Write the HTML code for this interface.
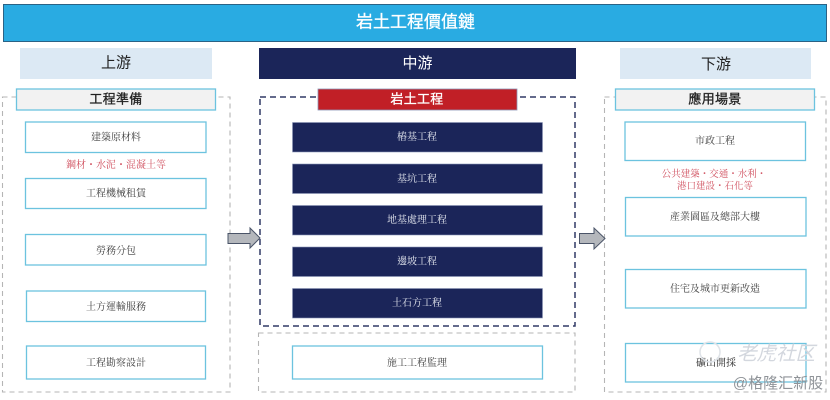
<!DOCTYPE html>
<html lang="zh-Hant">
<head>
<meta charset="utf-8">
<title>岩土工程價值鏈</title>
<style>
html,body{margin:0;padding:0;background:#fff;width:830px;height:400px;overflow:hidden}
svg{display:block}
.s{font-family:"Liberation Sans","Noto Sans CJK TC",sans-serif;text-anchor:middle}
.m{stroke-width:.3px}
.f{font-family:"Liberation Serif","Noto Serif CJK SC",serif;text-anchor:middle;font-size:10px;fill:#3d3d3d}
.b{fill:#fff;stroke:#6cc3df;stroke-width:1.3}
.n{fill:#1b2559;stroke:#8d97b8;stroke-width:.6}
.h{fill:#f2f2f2;stroke:#6cc3df;stroke-width:1.3}
.g{fill:none;stroke:#b5b5b5;stroke-width:1.1;stroke-dasharray:5 4}
.d{fill:none;stroke:#303a66;stroke-width:1.5;stroke-dasharray:6 4}
.a{fill:#b4b7bc;stroke:#4a5468;stroke-width:1}
</style>
</head>
<body>
<svg width="830" height="400" viewBox="0 0 830 400" xmlns="http://www.w3.org/2000/svg">
<rect x="0" y="0" width="830" height="400" fill="#fff"/>

<rect x="3.500" y="4.500" width="823" height="37" fill="#29abe2" stroke="#2a6285" stroke-width="1"/>
<text class="s m" x="415.500" y="27.500" font-size="17" fill="#fff" stroke="#fff">岩土工程價值鏈</text>

<rect x="20" y="48" width="192" height="31" fill="#dce9f4"/>
<text class="s" x="116" y="67.500" font-size="15" fill="#222">上游</text>
<rect x="259" y="48" width="317" height="31" fill="#1b2559"/>
<text class="s" x="417.500" y="68" font-size="15" fill="#fff">中游</text>
<rect x="620" y="48" width="191" height="31" fill="#dce9f4"/>
<text class="s" x="716" y="69" font-size="15" fill="#222">下游</text>

<rect class="g" x="2.500" y="97" width="227.500" height="295"/>
<rect class="d" x="260" y="97" width="315" height="229"/>
<rect class="g" x="258.500" y="333" width="316.500" height="59"/>
<rect class="g" x="604.500" y="97" width="221.500" height="295"/>

<rect class="h" x="16.500" y="89" width="199" height="21"/>
<text class="s m" x="116" y="103.500" font-size="13" fill="#222" stroke="#222" letter-spacing=".3">工程準備</text>
<rect x="318" y="89" width="199" height="21" fill="#c11f26" stroke="#8d97b8" stroke-width=".8"/>
<text class="s m" x="417" y="103.500" font-size="13" fill="#fff" stroke="#fff" letter-spacing=".3">岩土工程</text>
<rect class="h" x="615.500" y="89" width="199" height="21"/>
<text class="s m" x="715" y="103.500" font-size="13" fill="#222" stroke="#222" letter-spacing=".3">應用場景</text>

<rect class="b" x="25.500" y="122" width="180.500" height="30.500"/>
<text class="f" x="116" y="140.500">建築原材料</text>
<text class="f" x="116" y="168" style="fill:#d0505f">鋼材・水泥・混凝土等</text>
<rect class="b" x="25.500" y="178.500" width="180.500" height="30"/>
<text class="f" x="116" y="196.500">工程機械租賃</text>
<rect class="b" x="25.500" y="234.500" width="180.500" height="30.500"/>
<text class="f" x="116" y="254">勞務分包</text>
<rect class="b" x="26.500" y="291" width="179" height="30.500"/>
<text class="f" x="116" y="310">土方運輸服務</text>
<rect class="b" x="26.500" y="346" width="179" height="33"/>
<text class="f" x="116" y="366">工程勘察設計</text>

<rect class="n" x="292.500" y="122.500" width="250" height="29.500"/>
<text class="f" x="417" y="140" style="fill:#e8ebf2">樁基工程</text>
<rect class="n" x="292.500" y="164" width="250" height="29.500"/>
<text class="f" x="417" y="182" style="fill:#e8ebf2">基坑工程</text>
<rect class="n" x="292.500" y="205.500" width="250" height="29.500"/>
<text class="f" x="417" y="223" style="fill:#e8ebf2">地基處理工程</text>
<rect class="n" x="292.500" y="247" width="250" height="29.500"/>
<text class="f" x="417" y="264.500" style="fill:#e8ebf2">邊坡工程</text>
<rect class="n" x="292.500" y="288.500" width="250" height="29.500"/>
<text class="f" x="417" y="306" style="fill:#e8ebf2">土石方工程</text>
<rect class="b" x="292.500" y="346" width="250" height="33"/>
<text class="f" x="417" y="366">施工工程監理</text>

<rect class="b" x="625" y="122" width="180.500" height="38.500"/>
<text class="f" x="715" y="144">市政工程</text>
<text class="f" x="714" y="177" style="fill:#d0505f;font-size:9.500px">公共建築・交通・水利・</text>
<text class="f" x="715" y="189" style="fill:#d0505f;font-size:9.500px">港口建設・石化等</text>
<rect class="b" x="625.500" y="197.500" width="180.500" height="38.500"/>
<text class="f" x="715" y="220">產業園區及總部大樓</text>
<rect class="b" x="625.500" y="269.500" width="180.500" height="38.500"/>
<text class="f" x="715" y="292">住宅及城市更新改造</text>
<rect class="b" x="625.500" y="343.500" width="180.500" height="38.500"/>
<text class="f" x="716" y="366" style="fill:#222">礦山開採</text>

<polygon class="a" points="228,233.500 250,233.500 250,228 260,238 250,248 250,243.500 228,243.500"/>
<polygon class="a" points="579.500,233.500 594,233.500 594,228 605,238.500 594,249 594,243.500 579.500,243.500"/>

<circle cx="710" cy="352" r="10" fill="none" stroke="#dfe3e8" stroke-width="1.500"/>
<text class="s" x="776" y="360" font-size="19.500" fill="#d3d7de" font-style="italic">老虎社区</text>
<text class="s" x="778" y="388" font-size="15" fill="#8f9398">@格隆汇新股</text>
</svg>
</body>
</html>
